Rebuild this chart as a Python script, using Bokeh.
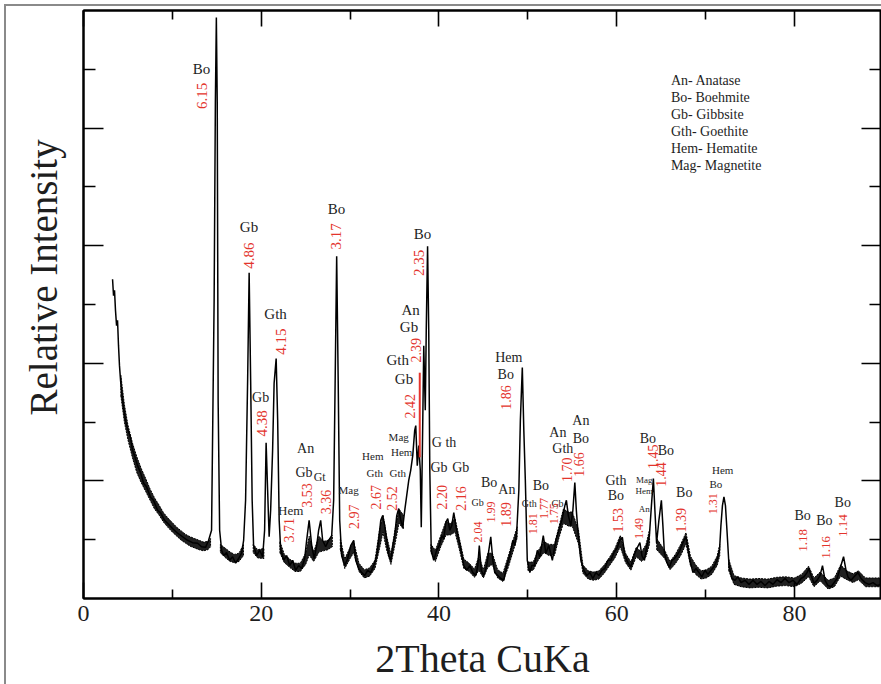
from bokeh.plotting import figure
from bokeh.models import (LinearAxis, FixedTicker, ColumnDataSource, Range1d, Title,
                          CustomJSTickFormatter, InlineStyleSheet)
from bokeh.core.properties import value
from bokeh.embed import file_html
from bokeh.resources import INLINE

# ---- diffractogram trace (2theta in degrees, relative intensity 0-100) ----
two_theta = [3.27, 3.38, 3.49, 3.60, 3.72, 3.83, 3.94, 4.05, 4.17, 4.34, 4.50, 4.73, 4.95, 5.29, 5.52, 5.74,
             6.08, 6.42, 6.76, 7.09, 7.55, 7.88, 8.33, 8.67, 9.12, 9.46, 10.02, 10.59, 11.15, 11.71, 12.27,
             12.84, 13.29, 13.74, 14.08, 14.41, 14.70, 14.84, 14.95, 15.05, 15.15, 15.32,
             15.54, 15.77, 16.10, 16.44, 16.78, 17.12, 17.45, 17.79, 18.02, 18.24, 18.47, 18.64, 18.81, 18.98,
             19.14, 19.48, 19.82, 20.16, 20.38, 20.55, 20.72, 20.89, 21.06, 21.28, 21.45, 21.68, 21.85, 22.02,
             22.18, 22.52, 22.86, 23.20, 23.54, 23.87, 24.21, 24.55, 24.89, 25.11, 25.39, 25.68, 25.96, 26.24,
             26.46, 26.69, 26.91, 27.25, 27.59, 27.93, 28.15, 28.32, 28.49, 28.66, 28.83, 29.05, 29.39, 29.73,
             30.07, 30.41, 30.63, 30.97, 31.31, 31.64, 31.98, 32.32, 32.66, 33.00, 33.22, 33.45, 33.67, 33.90,
             34.12, 34.35, 34.57, 34.80, 35.02, 35.25, 35.47, 35.70, 35.92, 36.15, 36.37, 36.60, 36.82, 37.05,
             37.27, 37.39, 37.56, 37.73, 37.90, 38.01, 38.18, 38.29, 38.46, 38.57, 38.72, 38.85, 38.97, 39.13,
             39.41, 39.75, 40.03, 40.32, 40.54, 40.77, 40.99, 41.22, 41.44, 41.67, 41.89, 42.12, 42.45, 42.79,
             43.13, 43.47, 43.81, 44.14, 44.37, 44.54, 44.76, 45.05, 45.38, 45.61, 45.83, 46.06, 46.28, 46.62,
             46.96, 47.30, 47.64, 47.97, 48.31, 48.54, 48.76, 48.99, 49.16, 49.38, 49.55, 49.72, 49.94, 50.23,
             50.45, 50.73, 51.07, 51.35, 51.74, 52.03, 52.36, 52.76, 53.15, 53.49, 53.83, 54.17, 54.34, 54.56,
             54.84, 55.07, 55.29, 55.46, 55.63, 55.97, 56.31, 56.64, 56.98, 57.32, 57.66, 58.00, 58.33, 58.67,
             59.01, 59.35, 59.68, 60.02, 60.36, 60.64, 60.92, 61.26, 61.60, 61.94, 62.27, 62.61, 62.84, 63.12,
             63.40, 63.68, 63.91, 64.13, 64.30, 64.49, 64.75, 65.03, 65.20, 65.37, 65.65, 65.93, 66.22, 66.50,
             66.78, 67.12, 67.45, 67.79, 68.02, 68.24, 68.58, 68.92, 69.26, 69.59, 69.93, 70.27, 70.61, 70.95,
             71.28, 71.57, 71.73, 71.90, 72.07, 72.24, 72.41, 72.64, 72.97, 73.31, 73.65, 73.99, 74.44, 74.89,
             75.34, 75.79, 76.24, 76.69, 77.14, 77.59, 78.04, 78.49, 78.94, 79.39, 79.84, 80.29, 80.74, 81.08,
             81.42, 81.64, 81.87, 82.21, 82.55, 82.88, 83.16, 83.45, 83.78, 84.12, 84.46, 84.80, 85.14, 85.53,
             85.81, 86.04, 86.37, 86.71, 87.16, 87.50, 87.95, 88.40, 88.85, 89.30, 89.75]
intensity = [54.3, 51.5, 52.4, 49.0, 46.4, 47.3, 43.0, 39.6, 37.1, 34.5, 32.5, 30.3, 28.9, 27.4, 25.2, 24.3,
             22.6, 21.4, 19.6, 19.0, 17.2, 16.7, 15.0, 14.6, 13.3, 12.8, 11.9, 11.1, 10.5, 9.9, 9.5,
             9.4, 8.8, 8.7, 9.9, 11.6, 50.7, 84.4, 98.8, 84.4, 33.7, 11.6,
             8.2, 7.3, 7.8, 6.5, 7.1, 6.0, 6.8, 7.7, 9.9, 16.7, 37.1, 55.4, 37.1, 16.7,
             9.0, 7.3, 8.2, 7.1, 11.6, 26.5, 18.4, 10.5, 15.0, 25.2, 36.6, 40.8, 30.3, 13.3,
             8.5, 6.5, 7.3, 5.6, 6.5, 4.8, 5.6, 5.1, 6.8, 9.9, 13.3, 9.0, 6.8, 9.0,
             11.6, 13.3, 9.9, 8.8, 9.9, 10.7, 16.7, 37.1, 58.2, 37.1, 13.3, 7.3, 5.6, 6.8,
             9.0, 9.9, 6.5, 5.1, 4.4, 3.9, 4.8, 4.4, 5.6, 7.3, 9.9, 13.3, 14.1, 12.4,
             9.9, 7.3, 6.5, 9.0, 10.7, 14.1, 15.3, 13.3, 12.1, 15.0, 17.5, 20.1, 21.8, 24.3,
             28.6, 29.4, 22.6, 26.0, 21.8, 12.1, 30.3, 43.0, 32.0, 45.6, 59.9, 45.6, 21.8, 8.2,
             6.5, 8.2, 9.0, 10.7, 10.2, 12.9, 13.6, 11.6, 12.4, 14.6, 12.4, 10.7, 8.5, 5.6,
             4.8, 5.6, 4.4, 3.9, 5.6, 9.0, 4.8, 3.9, 5.6, 8.2, 10.5, 6.5, 4.4, 3.9,
             3.4, 3.1, 5.6, 7.3, 9.9, 9.0, 11.6, 18.4, 30.3, 39.3, 28.6, 20.1, 6.5, 4.4,
             5.6, 5.6, 8.2, 7.1, 10.7, 7.7, 9.0, 6.5, 9.9, 11.6, 13.3, 15.8, 16.7, 14.1,
             12.4, 15.0, 19.7, 15.0, 11.6, 6.5, 4.8, 3.9, 4.4, 3.4, 4.4, 3.9, 4.8, 5.1,
             6.5, 6.5, 7.8, 8.5, 9.9, 10.4, 7.3, 6.1, 5.4, 7.3, 8.5, 9.5, 7.3, 6.5,
             9.0, 10.7, 15.8, 20.4, 15.0, 9.4, 13.3, 16.7, 12.4, 7.7, 6.1, 5.3, 6.5, 6.8,
             7.3, 8.2, 9.5, 10.5, 8.5, 6.5, 4.4, 5.1, 4.4, 3.7, 4.8, 4.1, 4.8, 5.4,
             6.5, 8.2, 12.4, 15.8, 17.3, 15.8, 11.6, 5.6, 3.4, 3.1, 3.7, 2.7, 3.1, 2.4,
             3.1, 2.4, 2.9, 2.2, 2.9, 2.4, 3.2, 2.7, 3.4, 2.7, 3.1, 2.4, 3.4, 3.7,
             4.4, 5.1, 3.9, 2.6, 3.1, 3.9, 5.6, 3.1, 2.2, 2.0, 2.7, 3.4, 5.1, 7.1,
             4.8, 3.6, 3.1, 3.7, 4.4, 3.4, 2.7, 2.4, 2.7, 2.2, 2.4]

# ---- width of the noise band along the baseline ----
band_theta = [
    [4.2, 4.6, 5.0, 5.5, 6.0, 6.5, 7.0, 7.5, 8.0, 8.5, 9.0, 9.5, 10.0, 10.5, 11.0, 11.5, 12.0, 12.5, 13.0, 13.5, 14.0, 14.3],
    [15.4, 16.0, 16.5, 17.0, 17.5, 18.0],
    [19.1, 19.6, 20.3],
    [22.1, 22.6, 23.2, 23.8, 24.4, 25.0, 25.4, 25.9, 26.5, 27.0, 27.5, 28.0],
    [28.9, 29.4, 30.0, 30.4, 31.0, 31.6, 32.2, 32.8, 33.3, 33.7, 34.1, 34.6, 35.0, 35.5, 36.0],
    [39.1, 39.6, 40.2, 40.8, 41.3, 41.8, 42.3, 42.8, 43.4, 44.0, 44.5, 45.0, 45.5, 46.0, 46.6, 47.2, 47.8, 48.4, 48.8],
    [50.0, 50.6, 51.2, 51.8, 52.4, 53.0, 53.5, 54.0, 54.6, 55.0, 55.7, 56.2, 56.8, 57.4, 58.0, 58.6, 59.2, 59.8,
     60.4, 61.0, 61.6, 62.2, 62.8, 63.3, 63.7],
    [64.5, 65.4, 66.0, 66.6, 67.2, 67.8, 68.3, 68.9, 69.5, 70.1, 70.7, 71.3, 71.6],
    [72.6, 73.2, 74.0, 75.0, 76.0, 77.0, 78.0, 79.0, 80.0, 80.8, 81.6, 82.2, 82.9, 83.8, 84.5, 85.2, 85.9, 86.6,
     87.2, 88.0, 88.8, 89.8],
]
band_lo = [
    [34.5, 30.0, 27.0, 24.0, 21.4, 19.7, 18.2, 16.7, 15.2, 14.2, 13.0, 12.1, 11.3, 10.6, 9.9, 9.4, 8.9, 8.6, 8.3, 8.1, 8.3, 8.8],
    [7.8, 6.9, 6.3, 6.1, 6.3, 7.3],
    [7.8, 6.9, 6.8],
    [7.8, 6.1, 5.3, 4.6, 4.6, 5.8, 7.4, 6.3, 7.9, 8.1, 8.3, 8.8],
    [8.3, 5.1, 6.8, 7.8, 4.6, 3.5, 3.8, 5.1, 8.4, 11.3, 8.3, 5.8, 8.8, 12.8, 11.8],
    [7.8, 6.3, 8.8, 10.8, 10.8, 11.3, 8.3, 5.1, 4.6, 3.6, 4.8, 3.5, 5.3, 5.8, 3.5, 2.9, 5.3, 8.3, 10.3],
    [4.8, 4.8, 6.6, 7.8, 7.3, 7.3, 10.3, 12.8, 12.3, 12.3, 9.3, 4.3, 3.3, 3.1, 3.3, 4.3, 5.6, 6.9,
     8.8, 6.1, 4.8, 7.1, 6.3, 7.1, 9.3],
    [8.3, 6.8, 4.9, 5.9, 7.3, 9.3, 5.6, 4.1, 3.3, 3.5, 4.1, 5.6, 7.3],
    [4.8, 2.4, 2.0, 1.8, 1.9, 1.8, 2.1, 2.2, 2.0, 2.6, 3.7, 2.0, 3.0, 1.6, 2.0, 3.8, 3.2, 2.7,
     3.2, 2.0, 2.0, 2.0],
]
band_hi = [
    [38.0, 33.0, 29.5, 26.5, 24.1, 22.1, 20.4, 18.6, 17.1, 15.9, 14.6, 13.7, 12.9, 12.1, 11.5, 10.9, 10.5, 10.2, 9.9, 9.6, 9.7, 10.2],
    [9.2, 8.5, 7.9, 7.5, 7.7, 9.2],
    [9.2, 8.3, 8.5],
    [9.7, 7.5, 6.7, 6.0, 6.0, 7.7, 10.6, 7.9, 10.6, 9.7, 9.9, 10.7],
    [10.2, 6.7, 8.7, 9.7, 6.0, 4.9, 5.2, 6.5, 11.6, 14.2, 10.7, 7.5, 11.2, 15.2, 14.2],
    [9.2, 8.2, 10.7, 13.2, 12.7, 13.7, 10.2, 6.7, 6.0, 5.0, 7.2, 4.9, 7.7, 7.7, 4.9, 4.3, 7.2, 10.2, 12.2],
    [6.2, 6.2, 8.2, 9.7, 9.2, 9.2, 12.2, 15.2, 14.7, 14.7, 11.7, 5.7, 4.7, 4.5, 4.7, 5.7, 7.0, 8.5,
     10.7, 7.7, 6.2, 8.7, 7.9, 9.2, 11.7],
    [10.2, 8.2, 6.3, 7.5, 9.2, 11.2, 7.2, 5.7, 4.7, 4.9, 5.5, 7.2, 9.2],
    [6.7, 3.9, 3.5, 3.3, 3.4, 3.3, 3.6, 3.7, 3.5, 4.1, 5.5, 3.5, 4.5, 3.1, 3.5, 5.7, 4.7, 4.2,
     4.7, 3.5, 3.5, 3.5],
]

# ---- axis ticks ----
x_major_ticks = [0, 20, 40, 60, 80]
x_minor_ticks = [10, 30, 50, 70]
y_major_ticks = [20, 40, 60, 80]
y_minor_ticks = [10, 30, 50, 70, 90]

# ---- phase labels (black) ----
phase_text = ["Bo", "Gb", "Bo", "Bo", "Gth", "Gb", "An", "Gb", "Gt", "Hem",
              "Mag", "Hem", "Gth", "Gth", "Mag", "Hem", "An", "Gb", "Gth", "Gb",
              "G th", "Gb", "Gb", "Gb", "Bo", "An", "Hem", "Bo", "Gth", "Bo",
              "Gb", "An", "Gth", "An", "Bo", "Gth", "Bo", "Mag", "Hem", "An",
              "Bo", "Bo", "Bo", "Hem", "Bo", "Bo", "Bo", "Bo"]
phase_x = [13.29, 18.62, 28.46, 38.14, 21.62, 19.93, 25.00, 24.81, 26.58, 23.31,
           29.84, 32.55, 32.77, 35.36, 35.47, 35.81, 36.82, 36.63, 35.36, 36.07,
           40.57, 40.01, 42.45, 44.34, 45.64, 47.64, 47.86, 47.52, 50.15, 51.46,
           53.34, 53.38, 53.94, 55.97, 55.97, 59.91, 59.91, 63.10, 63.10, 63.10,
           63.51, 65.54, 67.60, 71.93, 71.17, 80.93, 83.37, 85.44]
phase_y = [90.0, 63.1, 66.3, 62.0, 48.4, 34.2, 25.5, 21.5, 20.7, 15.0,
           18.5, 24.3, 21.3, 21.3, 27.4, 25.0, 49.0, 46.1, 40.5, 37.4,
           26.6, 22.3, 22.3, 16.4, 19.8, 18.5, 41.0, 38.1, 16.1, 19.2,
           16.1, 28.2, 25.5, 30.3, 27.2, 20.1, 17.5, 20.1, 18.2, 15.3,
           27.2, 25.2, 18.1, 21.8, 19.5, 14.1, 13.3, 16.4]
phase_size = ["15px", "15px", "15px", "15px", "15px", "14px", "14px", "14px", "12px", "13px",
              "11px", "11px", "11px", "11px", "11px", "11px", "15px", "15px", "15px", "15px",
              "14px", "14px", "14px", "10px", "14px", "14px", "14px", "14px", "10px", "14px",
              "10px", "14px", "14px", "14px", "14px", "14px", "14px", "9px", "9px", "9px",
              "14px", "14px", "14px", "11px", "11px", "14px", "14px", "14px"]

# ---- d-spacing labels (red, vertical) ----
d_text = ["6.15", "4.86", "3.17", "2.35", "4.15", "4.38", "3.71", "3.53", "3.36", "2.97",
          "2.67", "2.52", "2.42", "2.39", "2.20", "2.16", "2.04", "1.99", "1.89", "1.86",
          "1.81", "1.77", "1.75", "1.70", "1.66", "1.53", "1.49", "1.45", "1.44", "1.39",
          "1.31", "1.18", "1.16", "1.14"]
d_x = [13.29, 18.62, 28.46, 37.76, 22.18, 20.12, 23.09, 25.11, 27.25, 30.41,
       32.88, 34.76, 36.71, 37.39, 40.39, 42.45, 44.34, 45.83, 47.52, 47.52,
       50.53, 51.77, 52.96, 54.39, 55.78, 60.10, 62.53, 64.08, 65.03, 67.23,
       70.80, 80.93, 83.56, 85.44]
d_y = [85.5, 58.3, 61.6, 57.1, 43.7, 29.8, 11.6, 17.5, 16.4, 13.9,
       17.2, 17.0, 32.7, 42.2, 17.2, 17.0, 11.3, 14.7, 14.3, 34.2,
       12.7, 15.3, 14.4, 21.9, 22.8, 13.3, 11.9, 24.1, 21.1, 13.3,
       16.1, 9.9, 8.7, 12.4]
d_size = ["15px", "15px", "15px", "15px", "15px", "15px", "14px", "14px", "14px", "14px",
          "14px", "14px", "14px", "14px", "14px", "14px", "12px", "12px", "14px", "14px",
          "12px", "12px", "12px", "14px", "14px", "14px", "12px", "14px", "14px", "14px",
          "12px", "13px", "13px", "13px"]

# red marker line for the 2.39 reflection
marker_x = [37.84]
marker_y0 = [24.0]
marker_y1 = [38.4]

# ---- key ----
key_text = ["An- Anatase", "Bo- Boehmite", "Gb- Gibbsite", "Gth- Goethite", "Hem- Hematite", "Mag- Magnetite"]
key_x = [66.1] * 6
key_y = [88.1, 85.2, 82.3, 79.4, 76.5, 73.6]

SERIF = "Liberation Serif"
RED = "#e3342c"
INK = "#1e1e1e"

p = figure(width=881, height=684, x_range=Range1d(0, 89.8), y_range=Range1d(0, 100),
           output_backend="svg", toolbar_location=None,
           min_border_left=83, min_border_right=0, min_border_top=10, min_border_bottom=86)
p.grid.visible = False
p.outline_line_color = "black"
p.outline_line_width = 2
p.stylesheets = [InlineStyleSheet(css=(
    ":host { position: relative; }"
    ":host::after { content: ''; position: absolute; left: 4px; top: 4px; right: -20px; bottom: -20px;"
    " border: 2px solid #8a8a8a; pointer-events: none; }"))]

# noise band + trace
band_xs = [t + t[::-1] for t in band_theta]
band_ys = [lo + hi[::-1] for lo, hi in zip(band_lo, band_hi)]
p.patches(band_xs, band_ys, fill_color="black", fill_alpha=0.88, line_color="black", line_width=1,
          line_dash="2 1")
p.line(two_theta, intensity, color="black", line_width=1.5)

p.segment(x0=marker_x, y0=marker_y0, x1=marker_x, y1=marker_y1, color=RED, line_width=2)

phase_src = ColumnDataSource(dict(x=phase_x, y=phase_y, t=phase_text, s=phase_size))
p.text(x="x", y="y", text="t", source=phase_src, text_font=value(SERIF), text_font_size="s",
       text_color=INK, text_align="center", text_baseline="middle")

d_src = ColumnDataSource(dict(x=d_x, y=d_y, t=d_text, s=d_size))
p.text(x="x", y="y", text="t", source=d_src, text_font=value(SERIF), text_font_size="s",
       text_color=RED, text_align="center", text_baseline="middle", angle=1.5708)

p.text(x=key_x, y=key_y, text=key_text, text_font=value(SERIF), text_font_size="14px",
       text_color=INK, text_align="left", text_baseline="middle")

# axes
empty = CustomJSTickFormatter(code="return ''")

def style(ax, major_ticks, minor_ticks, major_len, minor_len, labels):
    ax.ticker = FixedTicker(ticks=major_ticks, minor_ticks=minor_ticks)
    ax.axis_line_width = 2
    ax.axis_line_color = "black"
    ax.major_tick_in = major_len
    ax.major_tick_out = 0
    ax.minor_tick_in = minor_len
    ax.minor_tick_out = 0
    ax.major_tick_line_width = 1.6
    ax.minor_tick_line_width = 1.6
    ax.major_tick_line_color = "black"
    ax.minor_tick_line_color = "black"
    if not labels:
        ax.formatter = empty
        ax.major_label_standoff = 0

xb = p.xaxis[0]
style(xb, x_major_ticks, x_minor_ticks, 16, 9, True)
xb.major_label_text_font = SERIF
xb.major_label_text_font_size = "24px"
xb.major_label_text_color = INK
xb.major_label_standoff = 7
xb.axis_label = "2Theta CuKa"
xb.axis_label_text_font = SERIF
xb.axis_label_text_font_size = "40px"
xb.axis_label_text_font_style = "normal"
xb.axis_label_text_color = INK
xb.axis_label_standoff = 12

yl = p.yaxis[0]
style(yl, y_major_ticks, y_minor_ticks, 20, 12, False)

yr = LinearAxis()
style(yr, y_major_ticks, y_minor_ticks, 20, 12, False)
p.add_layout(yr, "right")

xt = LinearAxis()
style(xt, x_major_ticks, x_minor_ticks, 16, 9, False)
p.add_layout(xt, "above")

# y axis title: in the scan it starts about 183 px above the frame bottom, near the left edge
p.add_layout(Title(text="Relative Intensity", align="left", offset=183, standoff=34,
                   vertical_align="top",
                   text_font=SERIF, text_font_size="39px", text_font_style="normal",
                   text_color=INK), "left")

open("out.html", "w").write(file_html(p, INLINE))
